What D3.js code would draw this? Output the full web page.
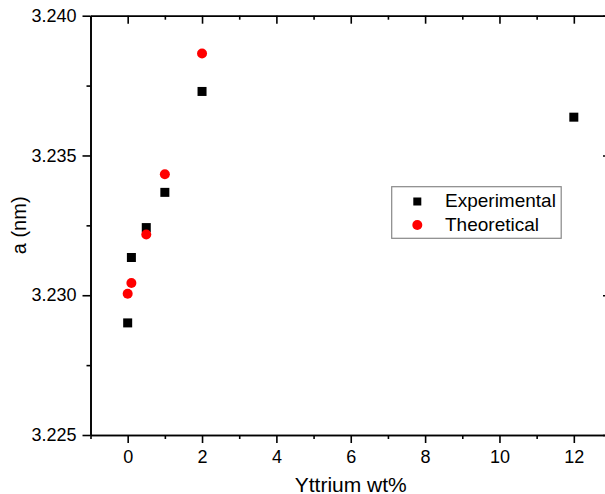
<!doctype html>
<html>
<head>
<meta charset="utf-8">
<script src="https://cdn.jsdelivr.net/npm/d3@7"></script>
<style type="text/css">
        body { margin: 0; background: #fff; }
        svg { display: block; }
        text { font-family: "Liberation Sans", Arial, sans-serif; fill: #000; }
        .axis path, .axis line { stroke: #000; stroke-width: 1.6; }
</style>
</head>
<body>
<svg width="605" height="494"></svg>
<script type="text/javascript">

// data
var yttrium      = [0, 0.1, 0.5, 1, 2, 12];
var experimental = [3.22901, 3.23135, 3.23242, 3.23368, 3.23729, 3.23637];
var yttriumTheo  = [0, 0.1, 0.5, 1, 2];
var theoretical  = [3.23005, 3.23044, 3.23217, 3.23433, 3.23865];

var xTicks = [0, 2, 4, 6, 8, 10, 12];
var xMinor = [-1, 1, 3, 5, 7, 9, 11, 13];
var yTicks = [3.225, 3.230, 3.235, 3.240];
var yMinor = [3.2275, 3.2325, 3.2375];

// plot frame (window.top is taken, so own names)
var pLeft = 90.5, pRight = 611, pTop = 15.7, pBottom = 435;

var svg = d3.select("svg");

//scales
var xScale = d3.scaleLinear().domain([-1, 13]).range([pLeft, pRight]);
var yScale = d3.scaleLinear().domain([3.225, 3.240]).range([pBottom, pTop]);

//left axis, ticks outward
svg.append("g").attr("class", "axis").attr("transform", "translate(" + pLeft + ",0)")
   .call(d3.axisLeft(yScale).tickValues(yTicks).tickSize(8).tickSizeOuter(0)
           .tickPadding(6).tickFormat(d3.format(".3f")));
svg.append("g").attr("class", "axis").attr("transform", "translate(" + pLeft + ",0)")
   .call(d3.axisLeft(yScale).tickValues(yMinor).tickSize(4).tickSizeOuter(0).tickFormat(""));

//bottom axis, ticks outward
svg.append("g").attr("class", "axis").attr("transform", "translate(0," + pBottom + ")")
   .call(d3.axisBottom(xScale).tickValues(xTicks).tickSize(8).tickSizeOuter(0).tickPadding(7));
svg.append("g").attr("class", "axis").attr("transform", "translate(0," + pBottom + ")")
   .call(d3.axisBottom(xScale).tickValues(xMinor).tickSize(4).tickSizeOuter(0).tickFormat(""));

//top axis, ticks inward
svg.append("g").attr("class", "axis").attr("transform", "translate(0," + pTop + ")")
   .call(d3.axisBottom(xScale).tickValues(xTicks).tickSize(8).tickSizeOuter(0).tickFormat(""));
svg.append("g").attr("class", "axis").attr("transform", "translate(0," + pTop + ")")
   .call(d3.axisBottom(xScale).tickValues(xMinor).tickSize(4).tickSizeOuter(0).tickFormat(""));

//right axis, ticks inward
svg.append("g").attr("class", "axis").attr("transform", "translate(" + pRight + ",0)")
   .call(d3.axisLeft(yScale).tickValues(yTicks).tickSize(8).tickSizeOuter(0).tickFormat(""));
svg.append("g").attr("class", "axis").attr("transform", "translate(" + pRight + ",0)")
   .call(d3.axisLeft(yScale).tickValues(yMinor).tickSize(4).tickSizeOuter(0).tickFormat(""));

svg.selectAll(".axis text").style("font-size", "18px")
   .style("font-family", "'Liberation Sans', Arial, sans-serif").attr("fill", "#000");

//axis titles
svg.append("text")
   .attr("x", (pLeft + pRight) / 2).attr("y", 491.5)
   .attr("text-anchor", "middle").style("font-size", "21px")
   .text("Yttrium wt%");
svg.append("text")
   .attr("transform", "translate(26," + ((pTop + pBottom) / 2) + ") rotate(-90)")
   .attr("text-anchor", "middle").style("font-size", "20px")
   .text("a (nm)");

//plotting
var sq = 9;
svg.append("g").selectAll("rect")
   .data(yttrium)
   .enter()
   .append("rect")
   .attr("width", sq).attr("height", sq)
   .attr("x", function(d) { return xScale(d) - sq / 2; })
   .attr("y", function(d, i) { return yScale(experimental[i]) - sq / 2; })
   .attr("fill", "#000");

svg.append("g").selectAll("circle")
   .data(yttriumTheo)
   .enter()
   .append("circle")
   .attr("r", 5)
   .attr("cx", function(d) { return xScale(d); })
   .attr("cy", function(d, i) { return yScale(theoretical[i]); })
   .attr("fill", "#ff0000");

//legend
var legend = svg.append("g");
legend.append("rect")
   .attr("x", 391.7).attr("y", 186.7).attr("width", 169.5).attr("height", 51.6)
   .attr("fill", "#fff").attr("stroke", "#888").attr("stroke-width", 1.2);
legend.append("rect")
   .attr("x", 417.3 - 4).attr("y", 201.5 - 4).attr("width", 8).attr("height", 8)
   .attr("fill", "#000");
legend.append("circle")
   .attr("cx", 417.3).attr("cy", 225).attr("r", 5).attr("fill", "#ff0000");
legend.append("text").attr("x", 445).attr("y", 206.7).style("font-size", "19px").text("Experimental");
legend.append("text").attr("x", 445).attr("y", 230.7).style("font-size", "19px").text("Theoretical");

</script>
</body>
</html>
